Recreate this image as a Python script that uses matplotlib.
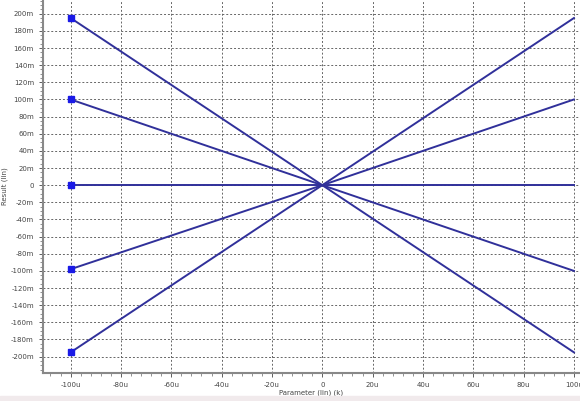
import numpy as np
import matplotlib.pyplot as plt
from matplotlib.patches import Rectangle
from matplotlib.ticker import FuncFormatter, MultipleLocator

# --- data: parameter sweep, each line is result = k * parameter ---
param = np.array([-100e-6, 0.0, 100e-6])     # parameter (lin), endpoints of each trace
start_vals = [195e-3, 100e-3, 0.0, -98e-3, -195e-3]   # result at -100u
end_vals = [-195e-3, -100e-3, 0.0, 100e-3, 195e-3]   # result at +100u

line_col = '#30309a'
mark_col = '#1a1ae6'


def fmt_u(v, pos):
    n = int(round(v * 1e6))
    return '0' if n == 0 else f'{n}u'


def fmt_m(v, pos):
    n = int(round(v * 1e3))
    return '0' if n == 0 else f'{n}m'


fig = plt.figure(figsize=(5.8, 4.01), dpi=100)
# pale strip along the bottom edge of the window
fig.patches.append(Rectangle((0, 0), 1, 0.012, transform=fig.transFigure,
                             color='#f1eaec', zorder=0))
ax = fig.add_axes([0.074, 0.07, 0.926, 0.93])

for y0, y1 in zip(start_vals, end_vals):
    ys = np.array([y0, 0.0, y1])
    ax.plot(param, ys, color=line_col, lw=1.4, zorder=3)
    ax.plot(param[0], ys[0], 's', color=mark_col, ms=4, zorder=4)

ax.set_xlim(-111e-6, 102.4e-6)
ax.set_ylim(-219e-3, 216e-3)

ax.xaxis.set_major_locator(MultipleLocator(20e-6))
ax.xaxis.set_minor_locator(MultipleLocator(4e-6))
ax.yaxis.set_major_locator(MultipleLocator(20e-3))
ax.yaxis.set_minor_locator(MultipleLocator(5e-3))
ax.xaxis.set_major_formatter(FuncFormatter(fmt_u))
ax.yaxis.set_major_formatter(FuncFormatter(fmt_m))

ax.grid(True, which='major', color='#666666', ls=(0, (2, 2)), lw=0.7)
ax.tick_params(labelsize=5, colors='#444444', length=3, width=0.6)
ax.tick_params(which='minor', length=2, width=0.5, colors='#666666')

for s in ['top', 'right']:
    ax.spines[s].set_visible(False)
for s in ['left', 'bottom']:
    ax.spines[s].set_color('#888888')
    ax.spines[s].set_linewidth(1.5)

ax.set_xlabel('Parameter (lin) (k)', fontsize=5, color='#444444', labelpad=1)
ax.set_ylabel('Result (lin)', fontsize=5, color='#444444', labelpad=2)

plt.savefig('out.png', dpi=100)
